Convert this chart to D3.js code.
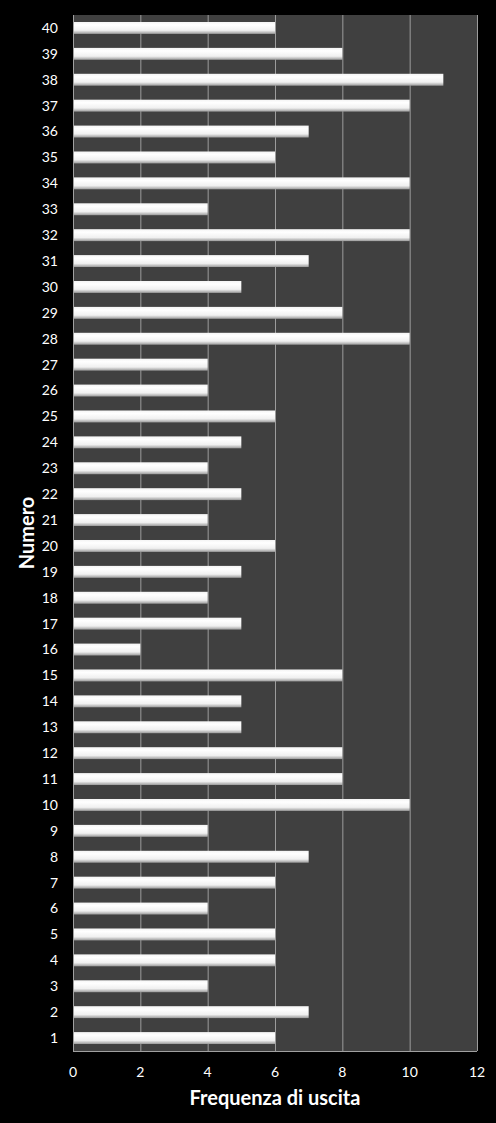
<!DOCTYPE html>
<html>
<head>
<meta charset="utf-8">
<script src="https://cdn.jsdelivr.net/npm/d3@7"></script>
<style>
  body { margin: 0; background: #000; }
  svg { display: block; font-family: Lato, "Open Sans", sans-serif; }
</style>
</head>
<body>
<div id="chart"></div>
<script>
// Numbers 1..40 and how often each came out
const numeri = d3.range(1, 41).map(String);
const frequenze = [6, 7, 4, 6, 6, 4, 6, 7, 4, 10,
                   8, 8, 5, 5, 8, 2, 5, 4, 5, 6,
                   4, 5, 4, 5, 6, 4, 4, 10, 8, 5,
                   7, 10, 4, 10, 6, 7, 10, 11, 8, 6];
const xTicks = [0, 2, 4, 6, 8, 10, 12];

const width = 496, height = 1123;
const margin = { top: 15, right: 19, bottom: 72, left: 73 };
const innerW = width - margin.left - margin.right;
const innerH = height - margin.top - margin.bottom;

const svg = d3.select("#chart").append("svg")
    .attr("width", width)
    .attr("height", height);

svg.append("rect").attr("width", width).attr("height", height).attr("fill", "#000");

// bar gradient (white on top, grey towards bottom)
const defs = svg.append("defs");
const grad = defs.append("linearGradient")
    .attr("id", "barGrad")
    .attr("x1", 0).attr("y1", 0).attr("x2", 0).attr("y2", 1);
grad.append("stop").attr("offset", "0%").attr("stop-color", "#f4f4f4");
grad.append("stop").attr("offset", "25%").attr("stop-color", "#ffffff");
grad.append("stop").attr("offset", "70%").attr("stop-color", "#f0f0f0");
grad.append("stop").attr("offset", "100%").attr("stop-color", "#9a9a9a");

const g = svg.append("g").attr("transform", `translate(${margin.left},${margin.top})`);

const x = d3.scaleLinear().domain([0, 12]).range([0, innerW]);
const y = d3.scaleBand().domain(numeri.slice().reverse()).range([0, innerH]).paddingInner(0.54).paddingOuter(0.27);

// plot area
g.append("rect")
    .attr("width", innerW).attr("height", innerH)
    .attr("fill", "#404040");

// gridlines
g.selectAll("line.grid")
    .data(xTicks.slice(1))
    .enter().append("line")
    .attr("class", "grid")
    .attr("x1", d => x(d) + 0.5).attr("x2", d => x(d) + 0.5)
    .attr("y1", 0).attr("y2", innerH)
    .attr("stroke", "#9c9c9c")
    .attr("stroke-width", 1);

// bars
g.selectAll("rect.bar")
    .data(numeri)
    .enter().append("rect")
    .attr("class", "bar")
    .attr("x", 0)
    .attr("y", d => y(d))
    .attr("width", (d, i) => x(frequenze[i]))
    .attr("height", y.bandwidth())
    .attr("fill", "url(#barGrad)");

// axis lines
g.append("line")
    .attr("x1", 0.5).attr("x2", 0.5).attr("y1", 0).attr("y2", innerH)
    .attr("stroke", "#a0a0a0");
g.append("line")
    .attr("x1", 0).attr("x2", innerW).attr("y1", innerH + 0.5).attr("y2", innerH + 0.5)
    .attr("stroke", "#a0a0a0");

// y labels
g.selectAll("text.ylab")
    .data(numeri)
    .enter().append("text")
    .attr("class", "ylab")
    .attr("x", -15)
    .attr("y", d => y(d) + y.bandwidth() / 2)
    .attr("dy", "0.35em")
    .attr("text-anchor", "end")
    .attr("fill", "#fff")
    .style("font-size", "14px")
    .text(d => d);

// x labels
g.selectAll("text.xlab")
    .data(xTicks)
    .enter().append("text")
    .attr("class", "xlab")
    .attr("x", d => x(d))
    .attr("y", innerH + 21)
    .attr("dy", "0.35em")
    .attr("text-anchor", "middle")
    .attr("fill", "#fff")
    .style("font-size", "14px")
    .text(d => d);

// axis titles
svg.append("text")
    .attr("x", margin.left + innerW / 2)
    .attr("y", 1105)
    .attr("text-anchor", "middle")
    .attr("fill", "#fff")
    .style("font-size", "20px")
    .style("font-weight", "bold")
    .text("Frequenza di uscita");

svg.append("text")
    .attr("transform", `translate(34,${margin.top + innerH / 2}) rotate(-90)`)
    .attr("text-anchor", "middle")
    .attr("fill", "#fff")
    .style("font-size", "20px")
    .style("font-weight", "bold")
    .text("Numero");
</script>
</body>
</html>
